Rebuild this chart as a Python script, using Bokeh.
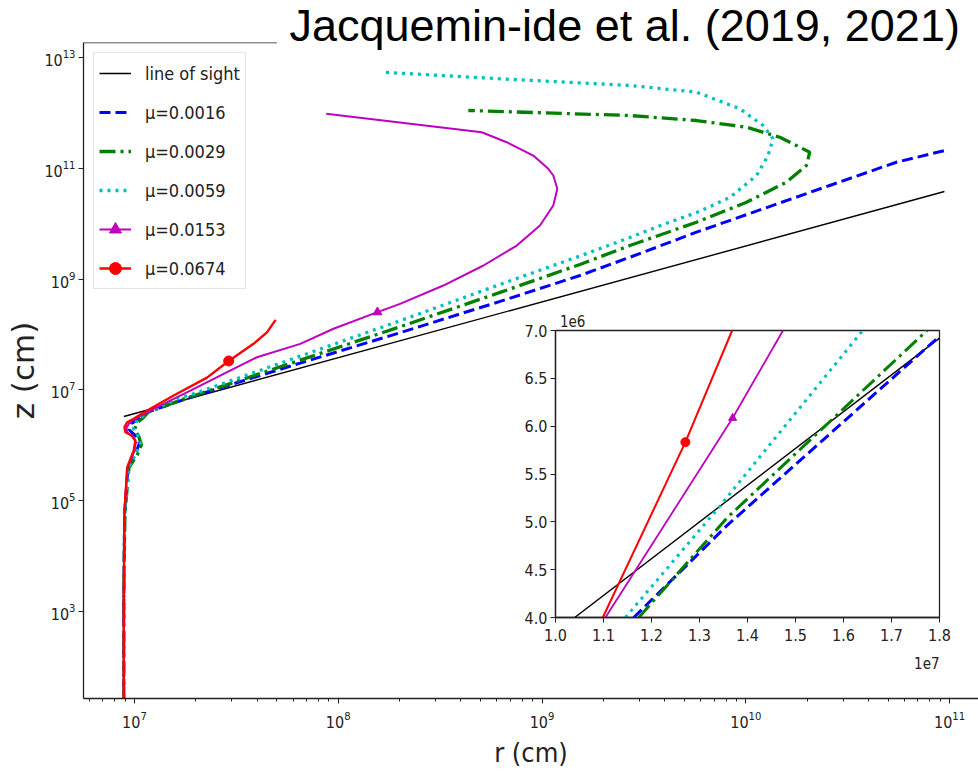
from bokeh.plotting import figure
from bokeh.models import (Range1d, FixedTicker, PrintfTickFormatter, Legend, LegendItem,
                          Label, Arrow)
from bokeh.layouts import column
from bokeh.embed import file_html
from bokeh.resources import INLINE

# ---------------- data (r, z in cm) ----------------
sight_r = [8.87e6, 9.44e10]
sight_z = [3.31e6, 3.81e10]

mu0016_r = [8.86e6, 8.86e6, 8.95e6, 9.29e6, 1.011e7, 1.058e7, 1.011e7, 9.45e6, 9.67e6, 1.058e7,
            1.163e7, 1.80e7, 2.107e7, 6.51e7, 2.01e8, 6.23e8, 1.536e9, 2.70e9, 5.73e9, 1.216e10,
            2.58e10, 5.48e10, 9.45e10]
mu0016_z = [20, 1.58e3, 5.87e4, 3.97e5, 7.11e5, 1.08e6, 1.50e6, 1.89e6, 2.48e6, 3.05e6,
            4.0e6, 6.94e6, 8.43e6, 3.05e7, 1.077e8, 3.96e8, 1.161e9, 2.48e9, 7.03e9, 1.858e10,
            4.90e10, 1.288e11, 2.09e11]

mu0029_r = [8.86e6, 8.86e6, 8.98e6, 9.40e6, 1.034e7, 1.082e7, 1.046e7, 1.0e7, 1.034e7, 1.107e7,
            1.1735e7, 1.774e7, 2.107e7, 6.51e7, 2.01e8, 6.23e8, 1.536e9, 2.70e9, 5.73e9, 1.008e10,
            1.583e10, 1.984e10, 2.06e10, 1.468e10, 1.008e10, 5.73e9, 2.70e9, 4.35e8]
mu0029_z = [20, 1.58e3, 5.87e4, 3.97e5, 6.82e5, 1.03e6, 1.50e6, 1.93e6, 2.58e6, 3.18e6,
            4.0e6, 7.0e6, 8.61e6, 3.45e7, 1.38e8, 5.75e8, 1.84e9, 4.04e9, 1.064e10, 2.44e10,
            5.61e10, 1.125e11, 1.954e11, 3.64e11, 5.52e11, 7.29e11, 8.97e11, 1.105e12]

mu0059_r = [8.86e6, 8.86e6, 8.96e6, 9.35e6, 1.023e7, 1.070e7, 1.034e7, 9.89e6, 1.023e7, 1.094e7,
            1.146e7, 1.64e7, 2.107e7, 6.51e7, 2.01e8, 6.23e8, 1.536e9, 2.70e9, 3.93e9, 5.73e9,
            8.35e9, 1.129e10, 1.286e10, 1.361e10, 1.216e10, 9.35e9, 5.73e9, 2.70e9, 6.23e8, 1.638e8]
mu0059_z = [20, 1.58e3, 5.87e4, 3.97e5, 7.41e5, 1.12e6, 1.57e6, 2.01e6, 2.69e6, 3.31e6,
            4.0e6, 7.0e6, 9.36e6, 4.07e7, 1.77e8, 8.02e8, 2.61e9, 5.64e9, 9.68e9, 1.59e10,
            2.97e10, 7.41e10, 1.70e11, 3.41e11, 5.93e11, 1.186e12, 2.37e12, 3.13e12, 4.13e12, 5.43e12]

mu0153_r = [8.86e6, 8.86e6, 8.93e6, 9.24e6, 9.94e6, 1.017e7, 9.78e6, 9.24e6, 9.14e6, 9.56e6,
            1.046e7, 1.292e7, 1.881e7, 2.74e7, 3.99e7, 6.51e7, 9.48e7, 1.558e8, 2.01e8, 3.28e8,
            5.16e8, 7.52e8, 9.77e8, 1.136e9, 1.189e9, 1.136e9, 1.074e9, 9.06e8, 6.71e8, 5.06e8, 8.73e7]
mu0153_z = [20, 1.58e3, 5.87e4, 3.97e5, 7.41e5, 1.12e6, 1.44e6, 1.70e6, 2.09e6, 2.69e6,
            3.24e6, 4.87e6, 9.75e6, 1.95e7, 3.89e7, 6.79e7, 1.27e8, 2.53e8, 3.58e8, 7.66e8,
            1.76e9, 4.04e9, 9.29e9, 2.13e10, 4.27e10, 7.41e10, 9.79e10, 1.70e11, 2.96e11, 4.48e11, 9.64e11]
mu0153_mark_r = [1.558e8]
mu0153_mark_z = [2.53e8]

mu0674_r = [8.86e6, 8.86e6, 8.93e6, 9.21e6, 9.92e6, 1.011e7, 9.74e6, 9.03e6, 8.93e6, 9.21e6,
            9.92e6, 1.11e7, 1.558e7, 2.27e7, 2.90e7, 3.84e7, 4.47e7, 4.93e7]
mu0674_z = [20, 1.58e3, 5.87e4, 3.97e5, 8.05e5, 1.22e6, 1.50e6, 1.72e6, 2.12e6, 2.61e6,
            3.01e6, 3.91e6, 7.92e6, 1.67e7, 3.33e7, 6.79e7, 1.09e8, 1.84e8]
mu0674_mark_r = [2.90e7]
mu0674_mark_z = [3.33e7]

# inset (r in units of 1e7 cm, z in units of 1e6 cm)
in_sight_r = [1.04, 1.80]
in_sight_z = [4.0, 6.92]
in_0016_r = [1.163, 1.357, 1.80]
in_0016_z = [4.0, 4.96, 6.94]
in_0029_r = [1.1735, 1.357, 1.774]
in_0029_z = [4.0, 5.04, 7.0]
in_0059_r = [1.1457, 1.340, 1.640]
in_0059_z = [4.0, 5.15, 7.0]
in_0153_r = [1.104, 1.369, 1.474]
in_0153_z = [4.0, 6.085, 7.0]
in_0153_mark_r = [1.369]
in_0153_mark_z = [6.085]
in_0674_r = [1.0985, 1.2706, 1.368]
in_0674_z = [4.0, 5.833, 7.0]
in_0674_mark_r = [1.2706]
in_0674_mark_z = [5.833]

x_major = [1e7, 1e8, 1e9, 1e10, 1e11]
x_minor = [m * 10.0 ** e for e in range(6, 12) for m in range(2, 10)]
y_major = [1e3, 1e5, 1e7, 1e9, 1e11, 1e13]
in_xticks = [1.0, 1.1, 1.2, 1.3, 1.4, 1.5, 1.6, 1.7, 1.8]
in_yticks = [4.0, 4.5, 5.0, 5.5, 6.0, 6.5, 7.0]

labels = ["line of sight", "μ=0.0016", "μ=0.0029", "μ=0.0059", "μ=0.0153", "μ=0.0674"]
title_text = "Jacquemin-ide et al. (2019, 2021)"

FONT = "DejaVu Sans Condensed"
C_BLUE, C_GREEN, C_CYAN, C_MAG, C_RED = "#0000ff", "#008000", "#00bfbf", "#bf00bf", "#ff0000"
AX = "#222222"

# ---------------- main figure ----------------
X0, X1 = 10 ** 6.75, 10 ** 11.142
Y0, Y1 = 10 ** 1.43, 10 ** 13.271
fig = figure(width=978, height=781, x_axis_type="log", y_axis_type="log",
             x_range=Range1d(X0, X1), y_range=Range1d(Y0, Y1),
             output_backend="svg", toolbar_location=None, frame_align=False,
             min_border_left=83, min_border_right=0, min_border_top=42, min_border_bottom=83)
fig.outline_line_color = None
fig.xgrid.visible = False
fig.ygrid.visible = False

fig.xaxis.ticker = FixedTicker(ticks=x_major, minor_ticks=x_minor)
fig.yaxis.ticker = FixedTicker(ticks=y_major, minor_ticks=[])
for ax in (fig.xaxis[0], fig.yaxis[0]):
    ax.axis_line_color = AX
    ax.axis_line_width = 1.3
    ax.major_tick_line_color = AX
    ax.minor_tick_line_color = AX
    ax.major_tick_in = 0
    ax.major_tick_out = 5
    ax.minor_tick_in = 0
    ax.minor_tick_out = 3
    ax.major_label_text_font = FONT
    ax.major_label_text_font_size = "16px"
    ax.major_label_text_color = AX
    ax.axis_label_text_font_style = "normal"
    ax.axis_label_text_color = AX
fig.xaxis.major_label_standoff = 7
fig.yaxis.major_label_standoff = 3
fig.xaxis.axis_label = "r (cm)"
fig.xaxis.axis_label_text_font = FONT
fig.xaxis.axis_label_text_font_size = "27px"
fig.xaxis.axis_label_standoff = 6
fig.yaxis.axis_label = "z (cm)"
fig.yaxis.axis_label_text_font = "DejaVu Sans"
fig.yaxis.axis_label_text_font_size = "31px"
fig.yaxis.axis_label_standoff = 0

# top spine (hidden by the title further right)
fig.add_layout(Arrow(x_start=X0, y_start=Y1, x_end=10 ** 7.70, y_end=Y1, end=None,
                     line_color=AX, line_width=1.3))

r_sight = fig.line(sight_r, sight_z, line_color="black", line_width=1.4)
r_0016 = fig.line(mu0016_r, mu0016_z, line_color=C_BLUE, line_width=3, line_dash="11 5")
r_0029 = fig.line(mu0029_r, mu0029_z, line_color=C_GREEN, line_width=3.3, line_dash="16 5 3 5")
r_0059 = fig.line(mu0059_r, mu0059_z, line_color=C_CYAN, line_width=3.3, line_dash="3 5")
r_0153 = fig.line(mu0153_r, mu0153_z, line_color=C_MAG, line_width=2)
m_0153 = fig.scatter(mu0153_mark_r, mu0153_mark_z, marker="triangle", size=9, color=C_MAG)
r_0674 = fig.line(mu0674_r, mu0674_z, line_color=C_RED, line_width=2.4)
m_0674 = fig.scatter(mu0674_mark_r, mu0674_mark_z, marker="circle", size=10, color=C_RED)

legend = Legend(items=[
    LegendItem(label=labels[0], renderers=[r_sight]),
    LegendItem(label=labels[1], renderers=[r_0016]),
    LegendItem(label=labels[2], renderers=[r_0029]),
    LegendItem(label=labels[3], renderers=[r_0059]),
    LegendItem(label=labels[4], renderers=[r_0153, m_0153]),
    LegendItem(label=labels[5], renderers=[r_0674, m_0674]),
], location="top_left", label_text_font=FONT, label_text_font_size="18px",
    label_text_color=AX, glyph_width=32, glyph_height=30, label_height=30, spacing=9,
    padding=5, margin=10, label_standoff=14, border_line_color="#cccccc",
    border_line_width=1, background_fill_alpha=0.8)
fig.add_layout(legend)

# inset offset texts (scientific-notation multipliers), placed in the main figure
fig.add_layout(Label(x=10 ** 9.088, y=10 ** 8.144, text="1e6", text_font=FONT,
                     text_font_size="15px", text_baseline="bottom", text_color=AX))
fig.add_layout(Label(x=10 ** 10.951, y=10 ** 2.188, text="1e7", text_font=FONT,
                     text_font_size="15px", text_baseline="top", text_align="right",
                     text_color=AX))

# ---------------- inset ----------------
ins = figure(width=440, height=333, x_range=Range1d(1.0, 1.8), y_range=Range1d(4.0, 7.0),
             output_backend="svg", toolbar_location=None, frame_align=False,
             min_border_left=40, min_border_right=16, min_border_top=10, min_border_bottom=36,
             styles={"position": "absolute", "left": "515px", "top": "320px", "z-index": "10"})
ins.border_fill_alpha = 0
ins.xgrid.visible = False
ins.ygrid.visible = False
ins.outline_line_color = AX
ins.outline_line_width = 1.3
ins.xaxis.ticker = FixedTicker(ticks=in_xticks, minor_ticks=[])
ins.yaxis.ticker = FixedTicker(ticks=in_yticks, minor_ticks=[])
ins.xaxis.formatter = PrintfTickFormatter(format="%.1f")
ins.yaxis.formatter = PrintfTickFormatter(format="%.1f")
for ax in (ins.xaxis[0], ins.yaxis[0]):
    ax.axis_line_color = AX
    ax.axis_line_width = 1.3
    ax.major_tick_line_color = AX
    ax.major_tick_in = 0
    ax.major_tick_out = 5
    ax.major_label_text_font = FONT
    ax.major_label_text_font_size = "16px"
    ax.major_label_text_color = AX
ins.xaxis.major_label_standoff = 6
ins.yaxis.major_label_standoff = 3

ins.line(in_sight_r, in_sight_z, line_color="black", line_width=1.4)
ins.line(in_0016_r, in_0016_z, line_color=C_BLUE, line_width=3, line_dash="11 5")
ins.line(in_0029_r, in_0029_z, line_color=C_GREEN, line_width=3, line_dash="16 5 3 5")
ins.line(in_0059_r, in_0059_z, line_color=C_CYAN, line_width=3, line_dash="3 5")
ins.line(in_0153_r, in_0153_z, line_color=C_MAG, line_width=1.8)
ins.scatter(in_0153_mark_r, in_0153_mark_z, marker="triangle", size=8, color=C_MAG)
ins.line(in_0674_r, in_0674_z, line_color=C_RED, line_width=2)
ins.scatter(in_0674_mark_r, in_0674_mark_z, marker="circle", size=9, color=C_RED)

# ---------------- title strip ----------------
tfig = figure(width=700, height=66, title=None, x_range=Range1d(0, 700), y_range=Range1d(0, 66),
              x_axis_location=None, y_axis_location=None, output_backend="svg",
              toolbar_location=None, frame_align=False, min_border=0,
              styles={"position": "absolute", "left": "278px", "top": "0px", "z-index": "11"})
tfig.background_fill_alpha = 0
tfig.border_fill_alpha = 0
tfig.xgrid.visible = False
tfig.ygrid.visible = False
tfig.outline_line_color = None
tfig.add_layout(Label(x=11, y=41, text=title_text, text_font="Liberation Sans",
                      text_font_size="45px", text_baseline="alphabetic", text_color="black"))

p = column(fig, ins, tfig)
open("out.html", "w").write(file_html(p, INLINE))
